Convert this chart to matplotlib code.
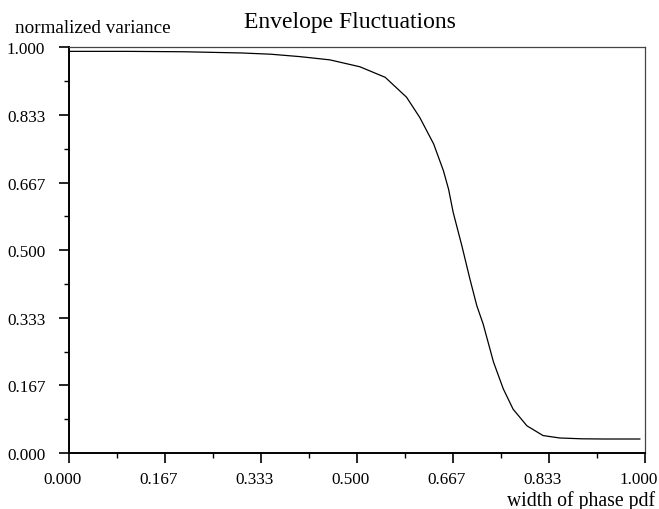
import matplotlib
matplotlib.use("Agg")
import matplotlib.pyplot as plt
import matplotlib.transforms as mtransforms
from matplotlib.ticker import FixedLocator

plt.rcParams['font.family'] = ['Liberation Serif', 'DejaVu Serif']

# data
width = [0.0, 0.1, 0.2, 0.3, 0.35, 0.401, 0.453, 0.505, 0.549, 0.586, 0.609,
         0.633, 0.650, 0.659, 0.667, 0.682, 0.696, 0.708, 0.719, 0.737, 0.754,
         0.771, 0.795, 0.823, 0.852, 0.89, 0.928, 0.991]
variance = [0.990, 0.990, 0.989, 0.986, 0.983, 0.977, 0.969, 0.952, 0.926, 0.877,
            0.827, 0.762, 0.696, 0.650, 0.593, 0.511, 0.429, 0.363, 0.318, 0.224,
            0.158, 0.108, 0.067, 0.043, 0.037, 0.035, 0.0345, 0.0345]
ticks = [0, 1/6, 2/6, 3/6, 4/6, 5/6, 1.0]
minor = [1/12, 3/12, 5/12, 7/12, 9/12, 11/12]

fig = plt.figure(figsize=(6.59, 5.10), dpi=100)
ax = fig.add_axes([69/659, 56/510, 576/659, 405.7/510])
ax.plot(width, variance, color='black', lw=0.9)
ax.set_xlim(0, 1)
ax.set_ylim(0, 1)

ax.xaxis.set_major_locator(FixedLocator(ticks))
ax.yaxis.set_major_locator(FixedLocator(ticks))
ax.xaxis.set_minor_locator(FixedLocator(minor))
ax.yaxis.set_minor_locator(FixedLocator(minor))
ax.set_xticklabels(['%.3f' % t for t in ticks])
ax.set_yticklabels(['%.3f' % t for t in ticks])
ax.tick_params(which='major', direction='out', length=7, width=1.2, labelsize=12.3)
ax.tick_params(axis='x', which='major', pad=6)
ax.tick_params(axis='y', which='major', pad=10)
ax.tick_params(which='minor', direction='out', length=3.5, width=1.0)

# labels in the reference sit a few pixels left of their ticks
shift = mtransforms.ScaledTranslation(-6/100, 0, fig.dpi_scale_trans)
for lab in ax.get_xticklabels():
    lab.set_transform(lab.get_transform() + shift)

for s in ['left', 'bottom']:
    ax.spines[s].set_linewidth(1.4)
    ax.spines[s].set_color('black')
for s in ['top', 'right']:
    ax.spines[s].set_linewidth(0.9)
    ax.spines[s].set_color('#444444')

fig.text(350/659, (510-28)/510, 'Envelope Fluctuations', ha='center', va='baseline', fontsize=17)
fig.text(15/659, (510-33)/510, 'normalized variance', ha='left', va='baseline', fontsize=13.8)
fig.text(655/659, (510-506)/510, 'width of phase pdf', ha='right', va='baseline', fontsize=14.2)

fig.savefig('out.png', dpi=100)
